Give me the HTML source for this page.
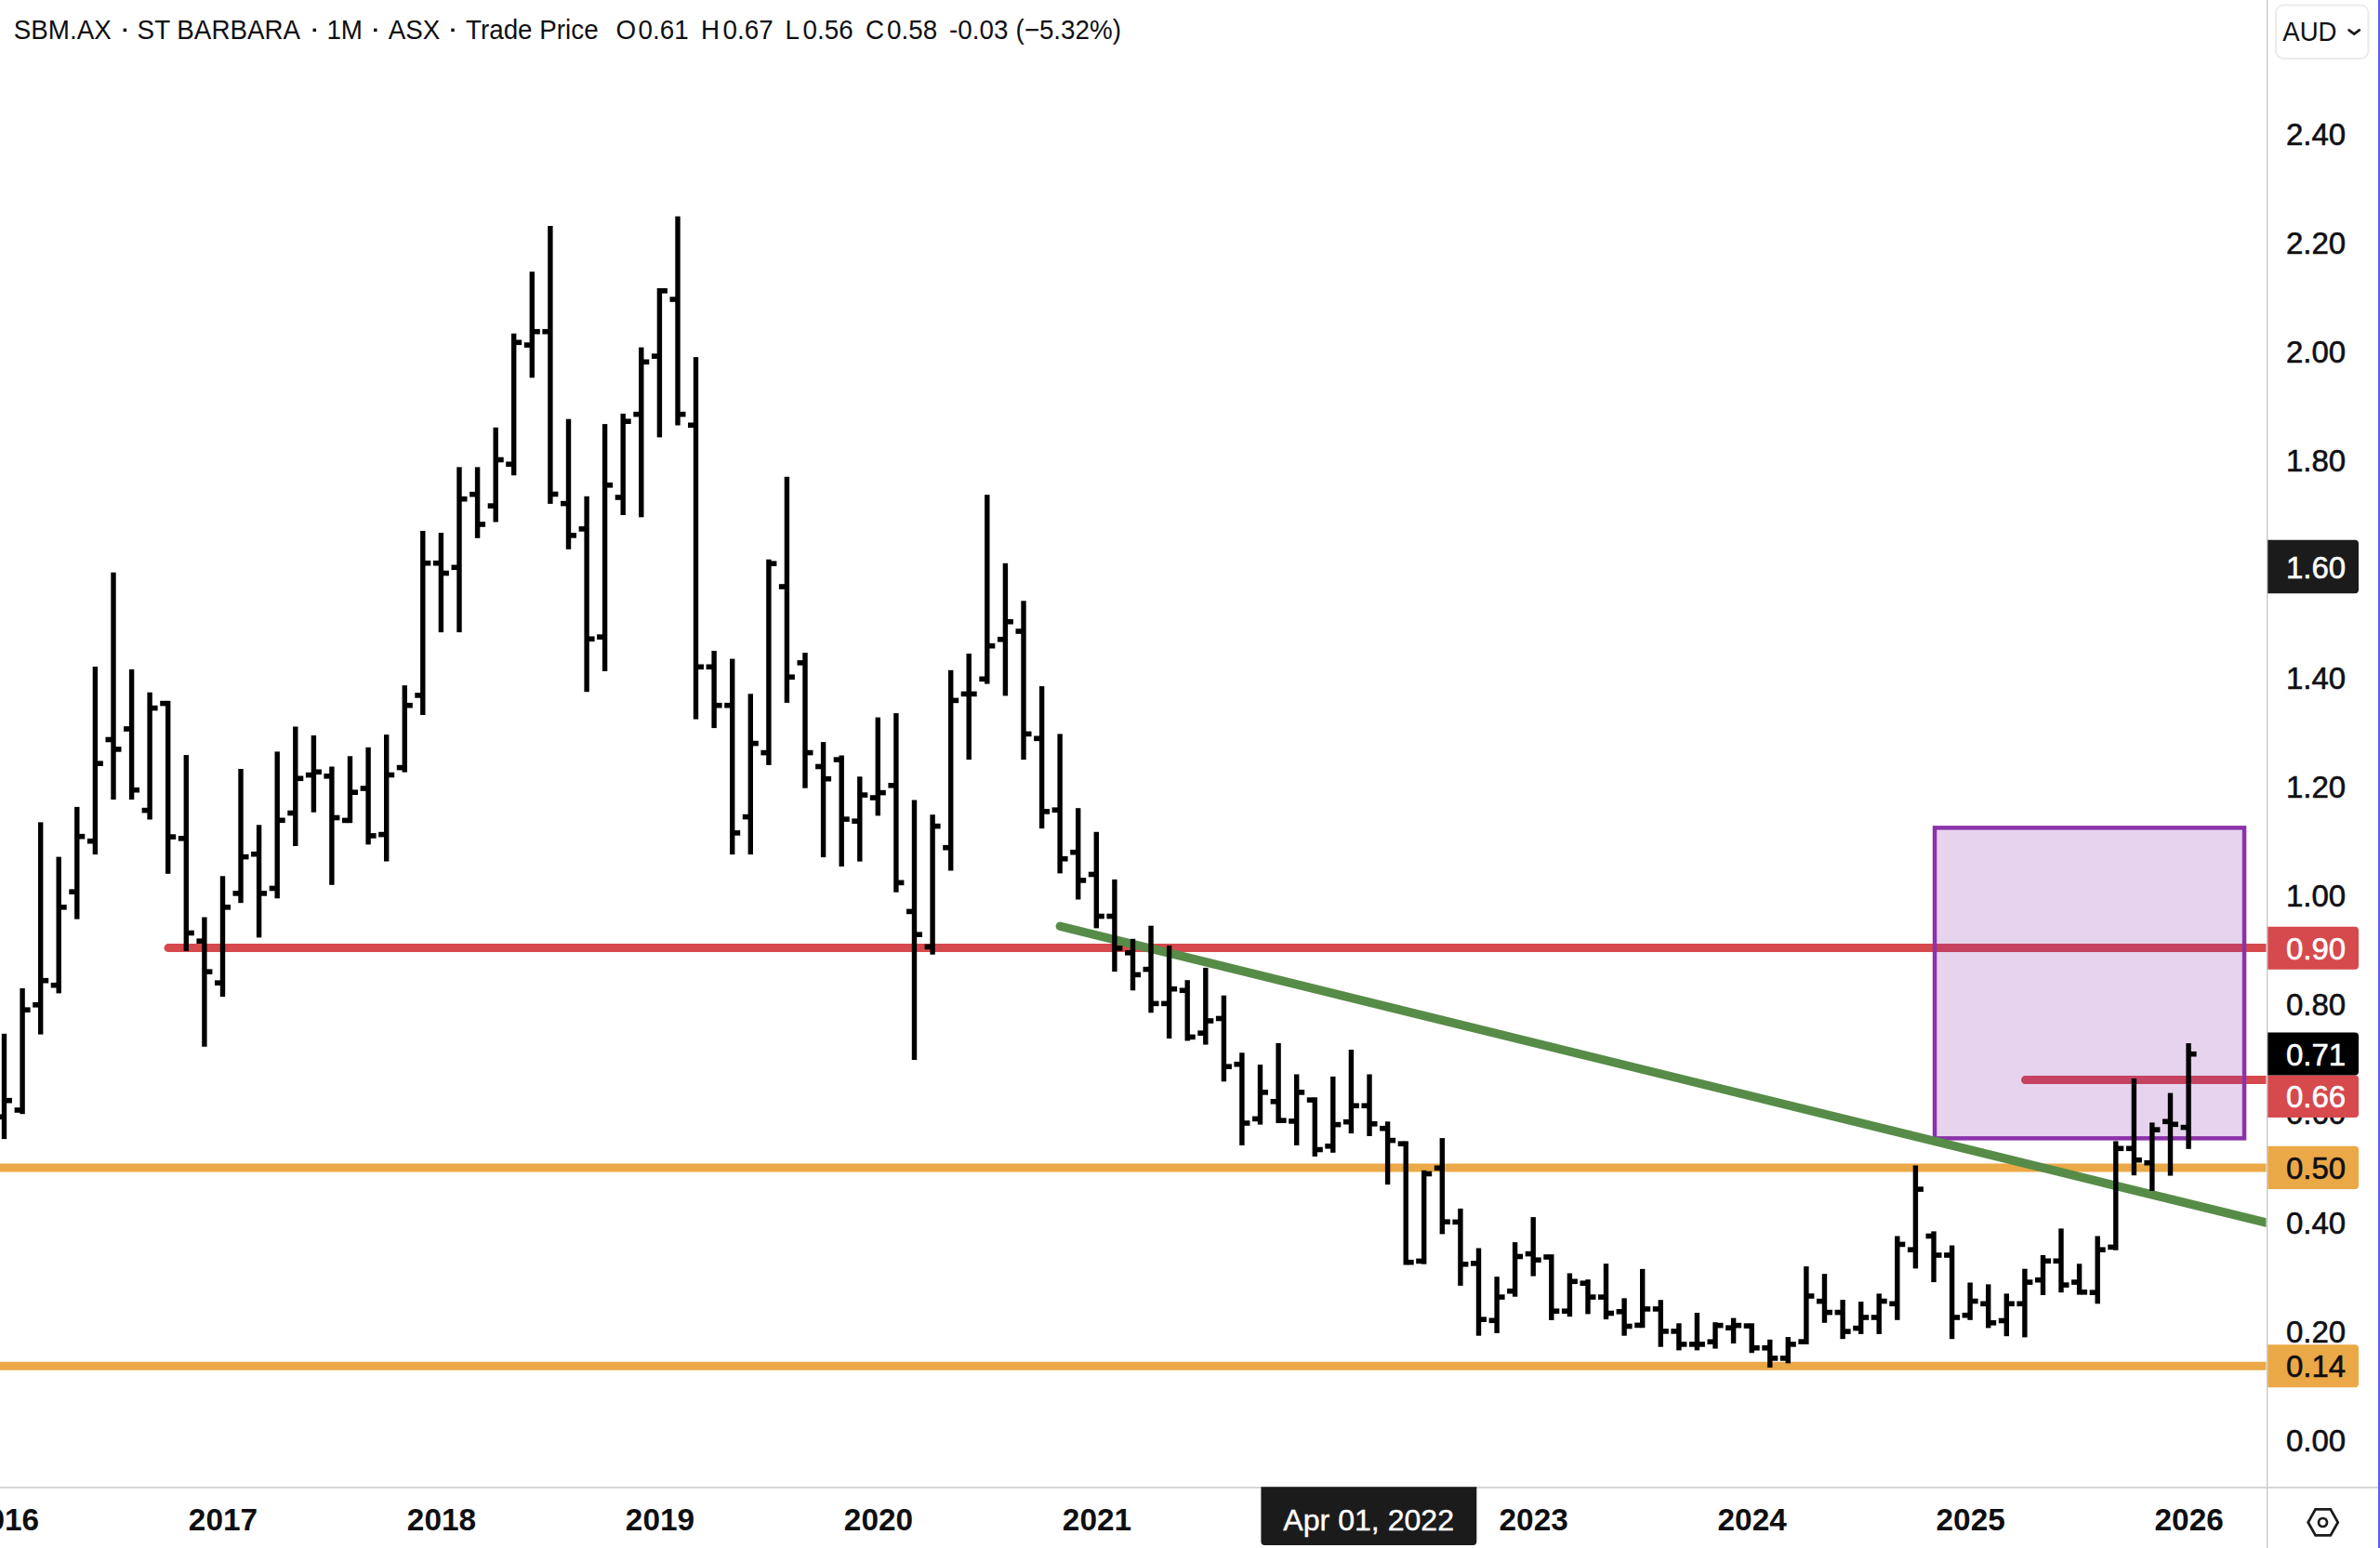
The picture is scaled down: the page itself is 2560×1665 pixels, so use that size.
<!DOCTYPE html>
<html lang="en"><head><meta charset="utf-8"><title>SBM.AX</title>
<style>
html,body{margin:0;padding:0;background:#fff;}
body{width:2560px;height:1665px;overflow:hidden;position:relative;font-family:"Liberation Sans",sans-serif;}
svg{position:absolute;left:0;top:0;display:block}
text{font-family:"Liberation Sans",sans-serif;font-size:32px;fill:#0f0f12}
.hd{font-size:27.8px;fill:#0f0f12}
.yr{font-weight:bold;text-anchor:middle;fill:#0f0f12;font-size:33.4px}
.ax{font-size:33px;stroke-width:0.6px;stroke:#0f0f12}
.ax.w{stroke:#fff}
.w{fill:#fff}
</style></head><body>
<svg width="2560" height="1665" viewBox="0 0 2560 1665">
<rect x="0" y="0" width="2560" height="1665" fill="#ffffff"/>
<defs><clipPath id="pane"><rect x="0" y="0" width="2437.5" height="1599"/></clipPath></defs>
<g clip-path="url(#pane)">
<line x1="-10" y1="1256.1" x2="2440" y2="1256.1" stroke="#eba847" stroke-width="9"/>
<line x1="-10" y1="1469.3" x2="2440" y2="1469.3" stroke="#eba847" stroke-width="9"/>
<line x1="181" y1="1019.6" x2="2445" y2="1019.6" stroke="#d6494d" stroke-width="9" stroke-linecap="round"/>
<line x1="2178.5" y1="1161.6" x2="2445" y2="1161.6" stroke="#d6494d" stroke-width="9" stroke-linecap="round"/>
<rect x="2081.05" y="890.35" width="333" height="334" fill="rgba(139,48,169,0.21)" stroke="#8c33aa" stroke-width="4.5"/>
<line x1="1140.3" y1="996.3" x2="2450" y2="1318.1" stroke="#578c48" stroke-width="9.4" stroke-linecap="round"/>
<g fill="#000">
<rect x="1.8" y="1111.8" width="5.4" height="113.3"/><rect x="-4.0" y="1198.5" width="6.8" height="5.6"/><rect x="6.2" y="1180.9" width="6.8" height="5.6"/>
<rect x="21.4" y="1063.0" width="5.4" height="135.2"/><rect x="15.6" y="1191.2" width="6.8" height="5.6"/><rect x="25.8" y="1083.4" width="6.8" height="5.6"/>
<rect x="41.0" y="884.4" width="5.4" height="228.2"/><rect x="35.2" y="1078.0" width="6.8" height="5.6"/><rect x="45.4" y="1051.9" width="6.8" height="5.6"/>
<rect x="60.5" y="921.6" width="5.4" height="146.8"/><rect x="54.7" y="1056.9" width="6.8" height="5.6"/><rect x="64.9" y="973.0" width="6.8" height="5.6"/>
<rect x="80.1" y="867.9" width="5.4" height="120.7"/><rect x="74.3" y="956.4" width="6.8" height="5.6"/><rect x="84.5" y="896.9" width="6.8" height="5.6"/>
<rect x="99.7" y="717.0" width="5.4" height="202.1"/><rect x="93.9" y="901.9" width="6.8" height="5.6"/><rect x="104.1" y="818.4" width="6.8" height="5.6"/>
<rect x="119.3" y="615.7" width="5.4" height="244.3"/><rect x="113.5" y="792.7" width="6.8" height="5.6"/><rect x="123.7" y="803.1" width="6.8" height="5.6"/>
<rect x="138.9" y="719.9" width="5.4" height="140.1"/><rect x="133.1" y="781.2" width="6.8" height="5.6"/><rect x="143.3" y="846.9" width="6.8" height="5.6"/>
<rect x="158.4" y="744.7" width="5.4" height="136.8"/><rect x="152.6" y="868.8" width="6.8" height="5.6"/><rect x="162.8" y="758.8" width="6.8" height="5.6"/>
<rect x="178.0" y="753.8" width="5.4" height="186.0"/><rect x="172.2" y="753.8" width="6.8" height="5.6"/><rect x="182.4" y="897.3" width="6.8" height="5.6"/>
<rect x="197.6" y="812.1" width="5.4" height="210.8"/><rect x="191.8" y="899.0" width="6.8" height="5.6"/><rect x="202.0" y="1000.7" width="6.8" height="5.6"/>
<rect x="217.2" y="986.5" width="5.4" height="139.3"/><rect x="211.4" y="1009.4" width="6.8" height="5.6"/><rect x="221.6" y="1042.4" width="6.8" height="5.6"/>
<rect x="236.8" y="942.3" width="5.4" height="129.8"/><rect x="231.0" y="1054.4" width="6.8" height="5.6"/><rect x="241.2" y="973.0" width="6.8" height="5.6"/>
<rect x="256.3" y="827.0" width="5.4" height="144.2"/><rect x="250.5" y="958.1" width="6.8" height="5.6"/><rect x="260.7" y="918.8" width="6.8" height="5.6"/>
<rect x="275.9" y="887.3" width="5.4" height="121.1"/><rect x="270.1" y="915.9" width="6.8" height="5.6"/><rect x="280.3" y="958.1" width="6.8" height="5.6"/>
<rect x="295.5" y="808.4" width="5.4" height="157.9"/><rect x="289.7" y="952.7" width="6.8" height="5.6"/><rect x="299.9" y="879.5" width="6.8" height="5.6"/>
<rect x="315.1" y="781.5" width="5.4" height="128.5"/><rect x="309.3" y="871.7" width="6.8" height="5.6"/><rect x="319.5" y="834.5" width="6.8" height="5.6"/>
<rect x="334.7" y="791.0" width="5.4" height="82.7"/><rect x="328.9" y="830.8" width="6.8" height="5.6"/><rect x="339.1" y="827.5" width="6.8" height="5.6"/>
<rect x="354.2" y="824.5" width="5.4" height="127.3"/><rect x="348.4" y="832.0" width="6.8" height="5.6"/><rect x="358.6" y="876.7" width="6.8" height="5.6"/>
<rect x="373.8" y="813.3" width="5.4" height="71.9"/><rect x="368.0" y="879.6" width="6.8" height="5.6"/><rect x="378.2" y="849.4" width="6.8" height="5.6"/>
<rect x="393.4" y="803.8" width="5.4" height="104.6"/><rect x="387.6" y="845.2" width="6.8" height="5.6"/><rect x="397.8" y="896.1" width="6.8" height="5.6"/>
<rect x="413.0" y="790.1" width="5.4" height="136.4"/><rect x="407.2" y="894.8" width="6.8" height="5.6"/><rect x="417.4" y="830.7" width="6.8" height="5.6"/>
<rect x="432.6" y="737.2" width="5.4" height="93.4"/><rect x="426.8" y="822.8" width="6.8" height="5.6"/><rect x="437.0" y="755.9" width="6.8" height="5.6"/>
<rect x="452.1" y="571.0" width="5.4" height="198.0"/><rect x="446.3" y="745.1" width="6.8" height="5.6"/><rect x="456.5" y="602.9" width="6.8" height="5.6"/>
<rect x="471.7" y="573.1" width="5.4" height="107.0"/><rect x="465.9" y="602.9" width="6.8" height="5.6"/><rect x="476.1" y="613.7" width="6.8" height="5.6"/>
<rect x="491.3" y="502.4" width="5.4" height="177.7"/><rect x="485.5" y="607.5" width="6.8" height="5.6"/><rect x="495.7" y="533.9" width="6.8" height="5.6"/>
<rect x="510.9" y="502.4" width="5.4" height="76.4"/><rect x="505.1" y="528.9" width="6.8" height="5.6"/><rect x="515.3" y="561.2" width="6.8" height="5.6"/>
<rect x="530.5" y="459.8" width="5.4" height="101.7"/><rect x="524.7" y="541.3" width="6.8" height="5.6"/><rect x="534.9" y="491.7" width="6.8" height="5.6"/>
<rect x="550.0" y="358.7" width="5.4" height="152.6"/><rect x="544.2" y="496.5" width="6.8" height="5.6"/><rect x="554.4" y="365.5" width="6.8" height="5.6"/>
<rect x="569.6" y="292.2" width="5.4" height="114.1"/><rect x="563.8" y="368.3" width="6.8" height="5.6"/><rect x="574.0" y="353.9" width="6.8" height="5.6"/>
<rect x="589.2" y="243.0" width="5.4" height="298.9"/><rect x="583.4" y="353.9" width="6.8" height="5.6"/><rect x="593.6" y="528.7" width="6.8" height="5.6"/>
<rect x="608.8" y="450.7" width="5.4" height="140.1"/><rect x="603.0" y="538.8" width="6.8" height="5.6"/><rect x="613.2" y="573.1" width="6.8" height="5.6"/>
<rect x="628.4" y="533.8" width="5.4" height="210.4"/><rect x="622.6" y="566.1" width="6.8" height="5.6"/><rect x="632.8" y="684.4" width="6.8" height="5.6"/>
<rect x="647.9" y="456.1" width="5.4" height="265.8"/><rect x="642.1" y="682.3" width="6.8" height="5.6"/><rect x="652.3" y="519.0" width="6.8" height="5.6"/>
<rect x="667.5" y="444.9" width="5.4" height="109.1"/><rect x="661.7" y="532.2" width="6.8" height="5.6"/><rect x="671.9" y="450.4" width="6.8" height="5.6"/>
<rect x="687.1" y="373.6" width="5.4" height="182.7"/><rect x="681.3" y="442.8" width="6.8" height="5.6"/><rect x="691.5" y="386.5" width="6.8" height="5.6"/>
<rect x="706.7" y="310.0" width="5.4" height="160.4"/><rect x="700.9" y="380.3" width="6.8" height="5.6"/><rect x="711.1" y="310.0" width="6.8" height="5.6"/>
<rect x="726.3" y="232.7" width="5.4" height="224.8"/><rect x="720.5" y="319.2" width="6.8" height="5.6"/><rect x="730.7" y="442.8" width="6.8" height="5.6"/>
<rect x="745.8" y="384.1" width="5.4" height="389.5"/><rect x="740.0" y="454.5" width="6.8" height="5.6"/><rect x="750.2" y="714.5" width="6.8" height="5.6"/>
<rect x="765.4" y="700.0" width="5.4" height="83.1"/><rect x="759.6" y="714.5" width="6.8" height="5.6"/><rect x="769.8" y="755.9" width="6.8" height="5.6"/>
<rect x="785.0" y="708.6" width="5.4" height="210.5"/><rect x="779.2" y="755.9" width="6.8" height="5.6"/><rect x="789.4" y="893.1" width="6.8" height="5.6"/>
<rect x="804.6" y="746.3" width="5.4" height="172.8"/><rect x="798.8" y="875.8" width="6.8" height="5.6"/><rect x="809.0" y="796.8" width="6.8" height="5.6"/>
<rect x="824.2" y="601.7" width="5.4" height="221.2"/><rect x="818.4" y="806.8" width="6.8" height="5.6"/><rect x="828.6" y="603.4" width="6.8" height="5.6"/>
<rect x="843.7" y="512.8" width="5.4" height="243.1"/><rect x="837.9" y="628.2" width="6.8" height="5.6"/><rect x="848.1" y="725.4" width="6.8" height="5.6"/>
<rect x="863.3" y="702.1" width="5.4" height="145.6"/><rect x="857.5" y="710.1" width="6.8" height="5.6"/><rect x="867.7" y="806.8" width="6.8" height="5.6"/>
<rect x="882.9" y="798.1" width="5.4" height="124.0"/><rect x="877.1" y="821.7" width="6.8" height="5.6"/><rect x="887.3" y="834.9" width="6.8" height="5.6"/>
<rect x="902.5" y="812.5" width="5.4" height="119.5"/><rect x="896.7" y="814.3" width="6.8" height="5.6"/><rect x="906.9" y="878.3" width="6.8" height="5.6"/>
<rect x="922.1" y="835.3" width="5.4" height="91.3"/><rect x="916.3" y="880.4" width="6.8" height="5.6"/><rect x="926.5" y="852.3" width="6.8" height="5.6"/>
<rect x="941.6" y="771.6" width="5.4" height="105.8"/><rect x="935.8" y="855.2" width="6.8" height="5.6"/><rect x="946.0" y="849.8" width="6.8" height="5.6"/>
<rect x="961.2" y="767.1" width="5.4" height="192.6"/><rect x="955.4" y="842.0" width="6.8" height="5.6"/><rect x="965.6" y="946.6" width="6.8" height="5.6"/>
<rect x="980.8" y="860.5" width="5.4" height="279.5"/><rect x="975.0" y="977.6" width="6.8" height="5.6"/><rect x="985.2" y="1002.4" width="6.8" height="5.6"/>
<rect x="1000.4" y="876.2" width="5.4" height="150.5"/><rect x="994.6" y="1015.6" width="6.8" height="5.6"/><rect x="1004.8" y="885.8" width="6.8" height="5.6"/>
<rect x="1020.0" y="720.8" width="5.4" height="215.7"/><rect x="1014.2" y="908.9" width="6.8" height="5.6"/><rect x="1024.4" y="750.6" width="6.8" height="5.6"/>
<rect x="1039.5" y="703.0" width="5.4" height="114.1"/><rect x="1033.7" y="743.6" width="6.8" height="5.6"/><rect x="1043.9" y="743.6" width="6.8" height="5.6"/>
<rect x="1059.1" y="532.2" width="5.4" height="203.4"/><rect x="1053.3" y="727.5" width="6.8" height="5.6"/><rect x="1063.5" y="691.9" width="6.8" height="5.6"/>
<rect x="1078.7" y="605.8" width="5.4" height="142.6"/><rect x="1072.9" y="684.9" width="6.8" height="5.6"/><rect x="1083.1" y="665.9" width="6.8" height="5.6"/>
<rect x="1098.3" y="646.3" width="5.4" height="170.8"/><rect x="1092.5" y="676.2" width="6.8" height="5.6"/><rect x="1102.7" y="786.6" width="6.8" height="5.6"/>
<rect x="1117.9" y="738.1" width="5.4" height="153.0"/><rect x="1112.1" y="791.5" width="6.8" height="5.6"/><rect x="1122.3" y="870.1" width="6.8" height="5.6"/>
<rect x="1137.4" y="789.4" width="5.4" height="150.0"/><rect x="1131.6" y="868.4" width="6.8" height="5.6"/><rect x="1141.8" y="920.9" width="6.8" height="5.6"/>
<rect x="1157.0" y="869.2" width="5.4" height="98.3"/><rect x="1151.2" y="913.9" width="6.8" height="5.6"/><rect x="1161.4" y="944.1" width="6.8" height="5.6"/>
<rect x="1176.6" y="894.8" width="5.4" height="103.6"/><rect x="1170.8" y="937.7" width="6.8" height="5.6"/><rect x="1181.0" y="982.7" width="6.8" height="5.6"/>
<rect x="1196.2" y="945.9" width="5.4" height="99.2"/><rect x="1190.4" y="982.7" width="6.8" height="5.6"/><rect x="1200.6" y="1017.1" width="6.8" height="5.6"/>
<rect x="1215.8" y="1009.8" width="5.4" height="55.5"/><rect x="1210.0" y="1022.0" width="6.8" height="5.6"/><rect x="1220.2" y="1045.6" width="6.8" height="5.6"/>
<rect x="1235.3" y="995.7" width="5.4" height="93.6"/><rect x="1229.5" y="1039.8" width="6.8" height="5.6"/><rect x="1239.7" y="1076.6" width="6.8" height="5.6"/>
<rect x="1254.9" y="1017.0" width="5.4" height="100.0"/><rect x="1249.1" y="1076.6" width="6.8" height="5.6"/><rect x="1259.3" y="1060.9" width="6.8" height="5.6"/>
<rect x="1274.5" y="1054.2" width="5.4" height="65.3"/><rect x="1268.7" y="1062.5" width="6.8" height="5.6"/><rect x="1278.9" y="1112.6" width="6.8" height="5.6"/>
<rect x="1294.1" y="1040.9" width="5.4" height="82.7"/><rect x="1288.3" y="1108.4" width="6.8" height="5.6"/><rect x="1298.5" y="1095.2" width="6.8" height="5.6"/>
<rect x="1313.7" y="1070.7" width="5.4" height="92.6"/><rect x="1307.9" y="1092.7" width="6.8" height="5.6"/><rect x="1318.1" y="1144.4" width="6.8" height="5.6"/>
<rect x="1333.2" y="1132.3" width="5.4" height="99.6"/><rect x="1327.4" y="1141.9" width="6.8" height="5.6"/><rect x="1337.6" y="1205.2" width="6.8" height="5.6"/>
<rect x="1352.8" y="1145.1" width="5.4" height="64.5"/><rect x="1347.0" y="1200.6" width="6.8" height="5.6"/><rect x="1357.2" y="1172.1" width="6.8" height="5.6"/>
<rect x="1372.4" y="1122.0" width="5.4" height="86.0"/><rect x="1366.6" y="1182.0" width="6.8" height="5.6"/><rect x="1376.8" y="1202.4" width="6.8" height="5.6"/>
<rect x="1392.0" y="1155.5" width="5.4" height="76.4"/><rect x="1386.2" y="1203.1" width="6.8" height="5.6"/><rect x="1396.4" y="1172.1" width="6.8" height="5.6"/>
<rect x="1411.6" y="1180.3" width="5.4" height="63.6"/><rect x="1405.8" y="1180.3" width="6.8" height="5.6"/><rect x="1416.0" y="1233.7" width="6.8" height="5.6"/>
<rect x="1431.1" y="1157.9" width="5.4" height="81.9"/><rect x="1425.3" y="1230.0" width="6.8" height="5.6"/><rect x="1435.5" y="1206.8" width="6.8" height="5.6"/>
<rect x="1450.7" y="1129.0" width="5.4" height="90.1"/><rect x="1444.9" y="1203.9" width="6.8" height="5.6"/><rect x="1455.1" y="1186.5" width="6.8" height="5.6"/>
<rect x="1470.3" y="1155.5" width="5.4" height="66.5"/><rect x="1464.5" y="1186.5" width="6.8" height="5.6"/><rect x="1474.7" y="1206.0" width="6.8" height="5.6"/>
<rect x="1489.9" y="1206.3" width="5.4" height="67.8"/><rect x="1484.1" y="1210.9" width="6.8" height="5.6"/><rect x="1494.3" y="1223.8" width="6.8" height="5.6"/>
<rect x="1509.5" y="1227.4" width="5.4" height="133.1"/><rect x="1503.7" y="1227.4" width="6.8" height="5.6"/><rect x="1513.9" y="1354.9" width="6.8" height="5.6"/>
<rect x="1529.0" y="1258.8" width="5.4" height="100.9"/><rect x="1523.2" y="1353.6" width="6.8" height="5.6"/><rect x="1533.4" y="1259.7" width="6.8" height="5.6"/>
<rect x="1548.6" y="1224.1" width="5.4" height="103.3"/><rect x="1542.8" y="1253.5" width="6.8" height="5.6"/><rect x="1553.0" y="1311.4" width="6.8" height="5.6"/>
<rect x="1568.2" y="1299.9" width="5.4" height="83.0"/><rect x="1562.4" y="1311.6" width="6.8" height="5.6"/><rect x="1572.6" y="1357.0" width="6.8" height="5.6"/>
<rect x="1587.8" y="1342.5" width="5.4" height="94.2"/><rect x="1582.0" y="1356.1" width="6.8" height="5.6"/><rect x="1592.2" y="1416.4" width="6.8" height="5.6"/>
<rect x="1607.4" y="1373.2" width="5.4" height="60.7"/><rect x="1601.6" y="1417.5" width="6.8" height="5.6"/><rect x="1611.8" y="1392.3" width="6.8" height="5.6"/>
<rect x="1626.9" y="1336.1" width="5.4" height="58.6"/><rect x="1621.1" y="1385.9" width="6.8" height="5.6"/><rect x="1631.3" y="1348.7" width="6.8" height="5.6"/>
<rect x="1646.5" y="1309.1" width="5.4" height="63.5"/><rect x="1640.7" y="1345.8" width="6.8" height="5.6"/><rect x="1650.9" y="1352.4" width="6.8" height="5.6"/>
<rect x="1666.1" y="1349.2" width="5.4" height="70.7"/><rect x="1660.3" y="1349.2" width="6.8" height="5.6"/><rect x="1670.5" y="1407.4" width="6.8" height="5.6"/>
<rect x="1685.7" y="1369.5" width="5.4" height="46.7"/><rect x="1679.9" y="1407.4" width="6.8" height="5.6"/><rect x="1690.1" y="1375.5" width="6.8" height="5.6"/>
<rect x="1705.3" y="1376.2" width="5.4" height="37.2"/><rect x="1699.5" y="1377.4" width="6.8" height="5.6"/><rect x="1709.7" y="1392.3" width="6.8" height="5.6"/>
<rect x="1724.8" y="1359.2" width="5.4" height="59.9"/><rect x="1719.0" y="1392.3" width="6.8" height="5.6"/><rect x="1729.2" y="1409.7" width="6.8" height="5.6"/>
<rect x="1744.4" y="1396.3" width="5.4" height="40.4"/><rect x="1738.6" y="1408.0" width="6.8" height="5.6"/><rect x="1748.8" y="1423.7" width="6.8" height="5.6"/>
<rect x="1764.0" y="1364.9" width="5.4" height="63.3"/><rect x="1758.2" y="1422.6" width="6.8" height="5.6"/><rect x="1768.4" y="1405.1" width="6.8" height="5.6"/>
<rect x="1783.6" y="1398.2" width="5.4" height="50.5"/><rect x="1777.8" y="1405.1" width="6.8" height="5.6"/><rect x="1788.0" y="1429.1" width="6.8" height="5.6"/>
<rect x="1803.2" y="1423.3" width="5.4" height="29.1"/><rect x="1797.4" y="1429.1" width="6.8" height="5.6"/><rect x="1807.6" y="1443.1" width="6.8" height="5.6"/>
<rect x="1822.7" y="1412.0" width="5.4" height="40.4"/><rect x="1816.9" y="1443.1" width="6.8" height="5.6"/><rect x="1827.1" y="1443.1" width="6.8" height="5.6"/>
<rect x="1842.3" y="1422.2" width="5.4" height="28.4"/><rect x="1836.5" y="1440.4" width="6.8" height="5.6"/><rect x="1846.7" y="1422.8" width="6.8" height="5.6"/>
<rect x="1861.9" y="1417.6" width="5.4" height="27.4"/><rect x="1856.1" y="1425.4" width="6.8" height="5.6"/><rect x="1866.3" y="1422.8" width="6.8" height="5.6"/>
<rect x="1881.5" y="1423.3" width="5.4" height="31.9"/><rect x="1875.7" y="1423.3" width="6.8" height="5.6"/><rect x="1885.9" y="1447.0" width="6.8" height="5.6"/>
<rect x="1901.1" y="1440.8" width="5.4" height="30.1"/><rect x="1895.3" y="1447.0" width="6.8" height="5.6"/><rect x="1905.5" y="1458.1" width="6.8" height="5.6"/>
<rect x="1920.6" y="1438.1" width="5.4" height="28.2"/><rect x="1914.8" y="1458.1" width="6.8" height="5.6"/><rect x="1925.0" y="1443.1" width="6.8" height="5.6"/>
<rect x="1940.2" y="1362.1" width="5.4" height="83.8"/><rect x="1934.4" y="1440.3" width="6.8" height="5.6"/><rect x="1944.6" y="1391.2" width="6.8" height="5.6"/>
<rect x="1959.8" y="1370.2" width="5.4" height="52.6"/><rect x="1954.0" y="1396.8" width="6.8" height="5.6"/><rect x="1964.2" y="1408.8" width="6.8" height="5.6"/>
<rect x="1979.4" y="1398.1" width="5.4" height="42.1"/><rect x="1973.6" y="1408.8" width="6.8" height="5.6"/><rect x="1983.8" y="1429.3" width="6.8" height="5.6"/>
<rect x="1999.0" y="1400.0" width="5.4" height="34.9"/><rect x="1993.2" y="1425.8" width="6.8" height="5.6"/><rect x="2003.4" y="1414.2" width="6.8" height="5.6"/>
<rect x="2018.5" y="1391.4" width="5.4" height="43.5"/><rect x="2012.7" y="1414.2" width="6.8" height="5.6"/><rect x="2022.9" y="1396.7" width="6.8" height="5.6"/>
<rect x="2038.1" y="1329.5" width="5.4" height="90.3"/><rect x="2032.3" y="1399.5" width="6.8" height="5.6"/><rect x="2042.5" y="1335.6" width="6.8" height="5.6"/>
<rect x="2057.7" y="1253.5" width="5.4" height="110.9"/><rect x="2051.9" y="1341.4" width="6.8" height="5.6"/><rect x="2062.1" y="1276.3" width="6.8" height="5.6"/>
<rect x="2077.3" y="1324.4" width="5.4" height="54.7"/><rect x="2071.5" y="1326.7" width="6.8" height="5.6"/><rect x="2081.7" y="1347.2" width="6.8" height="5.6"/>
<rect x="2096.9" y="1339.5" width="5.4" height="100.7"/><rect x="2091.1" y="1347.2" width="6.8" height="5.6"/><rect x="2101.3" y="1414.2" width="6.8" height="5.6"/>
<rect x="2116.4" y="1379.5" width="5.4" height="40.3"/><rect x="2110.6" y="1411.9" width="6.8" height="5.6"/><rect x="2120.8" y="1396.7" width="6.8" height="5.6"/>
<rect x="2136.0" y="1381.4" width="5.4" height="47.0"/><rect x="2130.2" y="1399.5" width="6.8" height="5.6"/><rect x="2140.4" y="1420.0" width="6.8" height="5.6"/>
<rect x="2155.6" y="1391.4" width="5.4" height="45.8"/><rect x="2149.8" y="1417.7" width="6.8" height="5.6"/><rect x="2160.0" y="1399.5" width="6.8" height="5.6"/>
<rect x="2175.2" y="1364.7" width="5.4" height="73.7"/><rect x="2169.4" y="1399.5" width="6.8" height="5.6"/><rect x="2179.6" y="1376.3" width="6.8" height="5.6"/>
<rect x="2194.8" y="1350.0" width="5.4" height="43.0"/><rect x="2189.0" y="1373.9" width="6.8" height="5.6"/><rect x="2199.2" y="1353.5" width="6.8" height="5.6"/>
<rect x="2214.3" y="1321.4" width="5.4" height="68.8"/><rect x="2208.5" y="1353.5" width="6.8" height="5.6"/><rect x="2218.7" y="1379.3" width="6.8" height="5.6"/>
<rect x="2233.9" y="1359.3" width="5.4" height="33.3"/><rect x="2228.1" y="1376.3" width="6.8" height="5.6"/><rect x="2238.3" y="1387.0" width="6.8" height="5.6"/>
<rect x="2253.5" y="1329.5" width="5.4" height="72.8"/><rect x="2247.7" y="1387.4" width="6.8" height="5.6"/><rect x="2257.9" y="1341.4" width="6.8" height="5.6"/>
<rect x="2273.1" y="1227.4" width="5.4" height="117.3"/><rect x="2267.3" y="1338.6" width="6.8" height="5.6"/><rect x="2277.5" y="1232.5" width="6.8" height="5.6"/>
<rect x="2292.7" y="1160.0" width="5.4" height="104.2"/><rect x="2286.9" y="1232.5" width="6.8" height="5.6"/><rect x="2297.1" y="1244.9" width="6.8" height="5.6"/>
<rect x="2312.2" y="1207.4" width="5.4" height="73.5"/><rect x="2306.4" y="1247.9" width="6.8" height="5.6"/><rect x="2316.6" y="1212.3" width="6.8" height="5.6"/>
<rect x="2331.8" y="1175.6" width="5.4" height="89.0"/><rect x="2326.0" y="1203.5" width="6.8" height="5.6"/><rect x="2336.2" y="1206.5" width="6.8" height="5.6"/>
<rect x="2351.4" y="1122.1" width="5.4" height="113.7"/><rect x="2345.6" y="1209.8" width="6.8" height="5.6"/><rect x="2355.8" y="1130.9" width="6.8" height="5.6"/>
</g>
</g>
<rect x="2438" y="0" width="1.3" height="1665" fill="#c4c4c4"/>
<rect x="0" y="1599.2" width="2558" height="1.6" fill="#cccccc"/>
<rect x="2558" y="0" width="2" height="1665" fill="#5b5bf5"/>
<text x="2459" y="155.8" class="ax">2.40</text>
<text x="2459" y="272.9" class="ax">2.20</text>
<text x="2459" y="389.9" class="ax">2.00</text>
<text x="2459" y="507.0" class="ax">1.80</text>
<text x="2459" y="741.2" class="ax">1.40</text>
<text x="2459" y="858.2" class="ax">1.20</text>
<text x="2459" y="975.3" class="ax">1.00</text>
<text x="2459" y="1092.4" class="ax">0.80</text>
<text x="2459" y="1209.4" class="ax">0.60</text>
<text x="2459" y="1326.5" class="ax">0.40</text>
<text x="2459" y="1443.6" class="ax">0.20</text>
<text x="2459" y="1560.7" class="ax">0.00</text>
<path d="M2439.3 1232.7 H2533 a4 4 0 0 1 4 4 V1275 a4 4 0 0 1 -4 4 H2439.3 Z" fill="#eba847"/><text x="2459" y="1267.9" class="ax ">0.50</text>
<path d="M2439.3 1446.2 H2533 a4 4 0 0 1 4 4 V1488.3 a4 4 0 0 1 -4 4 H2439.3 Z" fill="#eba847"/><text x="2459" y="1481.3" class="ax ">0.14</text>
<path d="M2439.3 996.8 H2533 a4 4 0 0 1 4 4 V1038.7 a4 4 0 0 1 -4 4 H2439.3 Z" fill="#d6494d"/><text x="2459" y="1031.8" class="ax w">0.90</text>
<path d="M2439.3 1156.5 H2533 a4 4 0 0 1 4 4 V1198 a4 4 0 0 1 -4 4 H2439.3 Z" fill="#d6494d"/><text x="2459" y="1191.3" class="ax w">0.66</text>
<path d="M2439.3 1110.4 H2533 a4 4 0 0 1 4 4 V1152.5 a4 4 0 0 1 -4 4 H2439.3 Z" fill="#000000"/><text x="2459" y="1145.5" class="ax w">0.71</text>
<path d="M2439.3 580.8 H2533 a4 4 0 0 1 4 4 V634.3 a4 4 0 0 1 -4 4 H2439.3 Z" fill="#1b1b1b"/><text x="2459" y="621.6" class="ax w">1.60</text>
<rect x="2447.9" y="5.5" width="99.5" height="57.4" rx="8" ry="8" fill="#fff" stroke="#ebebeb" stroke-width="2"/>
<text transform="translate(2455.3 43.7) scale(0.985 1.08)" style="font-size:28px">AUD</text>
<path d="M2526.6 32.4 L2532.2 36.6 L2537.8 32.4" fill="none" stroke="#1b1b1b" stroke-width="2.8" stroke-linecap="round" stroke-linejoin="miter"/>
<text x="5.0" y="1646.2" class="yr">2016</text>
<text x="240.0" y="1646.2" class="yr">2017</text>
<text x="475.0" y="1646.2" class="yr">2018</text>
<text x="710.0" y="1646.2" class="yr">2019</text>
<text x="945.0" y="1646.2" class="yr">2020</text>
<text x="1180.0" y="1646.2" class="yr">2021</text>
<text x="1415.0" y="1646.2" class="yr">2022</text>
<text x="1649.7" y="1646.2" class="yr">2023</text>
<text x="1884.7" y="1646.2" class="yr">2024</text>
<text x="2119.7" y="1646.2" class="yr">2025</text>
<text x="2354.7" y="1646.2" class="yr">2026</text>
<path d="M1356.4 1599.3 H1588.3 V1657.9 a4 4 0 0 1 -4 4 H1360.4 a4 4 0 0 1 -4 -4 Z" fill="#1b1b1b"/>
<text x="1380.3" y="1646" class="w" style="stroke:#fff;stroke-width:0.4px;font-size:32.1px">Apr 01, 2022</text>
<path d="M2482.7 1637.4 L2490.6 1623.4 H2506.8 L2514.7 1637.4 L2506.8 1651.4 H2490.6 Z" fill="none" stroke="#1b1b1b" stroke-width="2.8" stroke-linejoin="miter"/>
<circle cx="2498.5" cy="1637.5" r="4.5" fill="none" stroke="#1b1b1b" stroke-width="2.7"/>
<text transform="translate(14.80 41.6) scale(1 1.055)" class="hd">SBM.AX</text>
<text transform="translate(147.60 41.6) scale(1 1.055)" class="hd">ST BARBARA</text>
<text transform="translate(351.40 41.6) scale(1 1.055)" class="hd">1M</text>
<text transform="translate(417.70 41.6) scale(1 1.055)" class="hd">ASX</text>
<text transform="translate(501.00 41.6) scale(1 1.055)" class="hd">Trade Price</text>
<text transform="translate(662.40 41.6) scale(1 1.055)" class="hd">O</text>
<text transform="translate(686.50 41.6) scale(1 1.055)" class="hd">0.61</text>
<text transform="translate(753.90 41.6) scale(1 1.055)" class="hd">H</text>
<text transform="translate(777.60 41.6) scale(1 1.055)" class="hd">0.67</text>
<text transform="translate(844.60 41.6) scale(1 1.055)" class="hd">L</text>
<text transform="translate(863.60 41.6) scale(1 1.055)" class="hd">0.56</text>
<text transform="translate(931.00 41.6) scale(1 1.055)" class="hd">C</text>
<text transform="translate(954.10 41.6) scale(1 1.055)" class="hd">0.58</text>
<text transform="translate(1021.10 41.6) scale(1 1.055)" class="hd">-0.03</text>
<text transform="translate(1092.40 41.6) scale(1 1.055)" class="hd">(−5.32%)</text>
<rect x="132.65" y="30.6" width="3.5" height="3.5" fill="#0f0f12"/>
<rect x="336.55" y="30.6" width="3.5" height="3.5" fill="#0f0f12"/>
<rect x="402.05" y="30.6" width="3.5" height="3.5" fill="#0f0f12"/>
<rect x="485.25" y="30.6" width="3.5" height="3.5" fill="#0f0f12"/>
</svg>
</body></html>
